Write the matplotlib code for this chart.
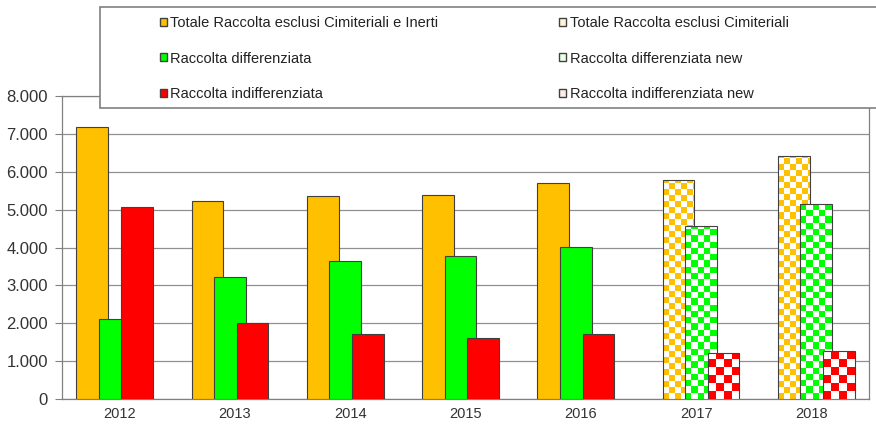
import numpy as np
import matplotlib.pyplot as plt
from matplotlib.colors import to_rgba
from matplotlib.patches import Patch, Rectangle
from matplotlib.ticker import FuncFormatter

plt.rcParams['font.family'] = ['Liberation Sans', 'DejaVu Sans']

# Données
anni = ['2012', '2013', '2014', '2015', '2016', '2017', '2018']
totale = [7190, 5215, 5365, 5390, 5715, None, None]
differenziata = [2120, 3210, 3640, 3775, 4010, None, None]
indifferenziata = [5060, 1995, 1715, 1610, 1715, None, None]
totale_new = [None, None, None, None, None, 5780, 6420]
differenziata_new = [None, None, None, None, None, 4565, 5145]
indifferenziata_new = [None, None, None, None, None, 1205, 1265]

etichette = ['Totale Raccolta esclusi Cimiteriali e Inerti',
             'Raccolta differenziata',
             'Raccolta indifferenziata',
             'Totale Raccolta esclusi Cimiteriali',
             'Raccolta differenziata new',
             'Raccolta indifferenziata new']

ARANCIO = '#FFC000'
VERDE = '#00FF00'
ROSSO = '#FF0000'
BORDO = '#404040'

fig = plt.figure(figsize=(8.76, 4.25), dpi=100)
ax = fig.add_axes([62 / 876, 1 - 399 / 425, 807 / 876, 303 / 425])

larg = 0.275
passo = 0.196
x = np.arange(len(anni))

# pixel -> unità dati
px_x = 1 / 115.3
px_y = 1000 / 37.9


def barre_piene(valori, spost, colore, z):
    xs = [xi + spost for xi, v in zip(x, valori) if v is not None]
    ys = [v for v in valori if v is not None]
    ax.bar(xs, ys, width=larg, color=colore, edgecolor=BORDO, linewidth=0.8, zorder=z)


def barre_scacchi(valori, spost, colore, cella, z):
    xs = [xi + spost for xi, v in zip(x, valori) if v is not None]
    ys = [v for v in valori if v is not None]
    barre = ax.bar(xs, ys, width=larg, color='white', edgecolor='none', zorder=z)
    cw = cella * px_x
    ch = cella * px_y
    for b in barre:
        x0 = b.get_x()
        h = b.get_height()
        nx = int(np.ceil(larg / cw))
        ny = int(np.ceil(h / ch))
        scacchi = np.add.outer(np.arange(ny), np.arange(nx)) % 2
        img = np.ones((ny, nx, 4))
        img[scacchi == 0] = to_rgba(colore)
        im = ax.imshow(img, extent=(x0, x0 + nx * cw, 0, ny * ch), origin='lower',
                       interpolation='nearest', aspect='auto', zorder=z + 0.1)
        im.set_clip_path(b)
        # bordo sopra l'immagine
        ax.add_patch(Rectangle((x0, 0), larg, h, facecolor='none', edgecolor=BORDO,
                               linewidth=0.8, zorder=z + 0.2))


d_old = -0.043
d_new = 0.043
barre_piene(totale, d_old - passo, ARANCIO, 3)
barre_piene(differenziata, d_old, VERDE, 4)
barre_piene(indifferenziata, d_old + passo, ROSSO, 5)
barre_scacchi(totale_new, d_new - passo, ARANCIO, 6.0, 3)
barre_scacchi(differenziata_new, d_new, VERDE, 6.3, 4)
barre_scacchi(indifferenziata_new, d_new + passo, ROSSO, 8.0, 5)

ax.set_xlim(-0.5, len(anni) - 0.5)
ax.set_ylim(0, 8000)
ax.set_yticks(np.arange(0, 8001, 1000))
ax.yaxis.set_major_formatter(FuncFormatter(lambda v, p: f'{int(v):,}'.replace(',', '.')))
ax.set_xticks(x)
ax.set_xticklabels(anni)
ax.tick_params(axis='x', length=0, labelsize=10.5, pad=6, colors='#333333')
ax.tick_params(axis='y', length=5, width=0.8, color='#808080', labelsize=12,
               labelcolor='#333333', pad=5)
ax.grid(axis='y', color='#909090', linewidth=0.9, zorder=0)
ax.set_axisbelow(True)
for s in ax.spines.values():
    s.set_color('#808080')
    s.set_linewidth(0.9)

# Cornice della legenda
fig.patches.append(Rectangle((100 / 876, 1 - 108 / 425), 0.95, 101 / 425,
                             transform=fig.transFigure, facecolor='white',
                             edgecolor='#808080', linewidth=1.2, zorder=5))

maniglie = [Patch(facecolor=ARANCIO, edgecolor=BORDO),
            Patch(facecolor=VERDE, edgecolor=BORDO),
            Patch(facecolor=ROSSO, edgecolor=BORDO),
            Patch(facecolor='#FFF5D6', edgecolor=BORDO),
            Patch(facecolor='#E8FFE8', edgecolor=BORDO),
            Patch(facecolor='#FFECEC', edgecolor=BORDO)]
leg = fig.legend(maniglie, etichette, ncol=2, frameon=False, loc='upper left',
                 bbox_to_anchor=(160 / 876, 1 - 16 / 425), fontsize=10.5,
                 handlelength=0.45, handleheight=0.45, handletextpad=0.25,
                 labelspacing=1.48, columnspacing=8.3, borderaxespad=0, borderpad=0)
leg.set_zorder(6)
for t in leg.get_texts():
    t.set_color('#222222')

fig.savefig('out.png', dpi=100)
